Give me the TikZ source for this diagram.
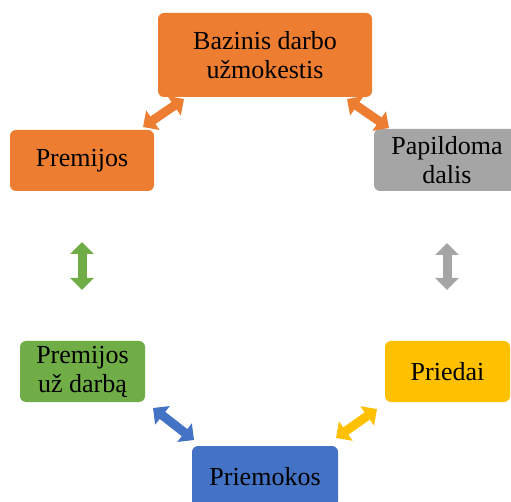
\documentclass[tikz,border=0pt]{standalone}
\usepackage{fontspec}
\setmainfont{Liberation Serif}
\usetikzlibrary{arrows.meta}
\definecolor{cOrange}{HTML}{ED7D31}
\definecolor{cGray}{HTML}{A5A5A5}
\definecolor{cYellow}{HTML}{FFC000}
\definecolor{cBlue}{HTML}{4472C4}
\definecolor{cGreen}{HTML}{70AD47}
\tikzset{
  box/.style={rounded corners=6pt, inner sep=0pt, align=center,
    font=\fontsize{26}{29}\selectfont, text=black},
  dblarrow/.style={line width=9pt, draw=#1,
    {Triangle[width=23pt,length=12pt]}-{Triangle[width=23pt,length=12pt]}}
}
\begin{document}
\begin{tikzpicture}[x=1pt,y=-1pt]
\useasboundingbox (0,0) rectangle (511,502);
% boxes
\node[box, fill=cOrange, minimum width=214pt, minimum height=84pt] (base) at (265,55) {Bazinis darbo\\užmokestis};
\node[box, fill=cOrange, minimum width=144pt, minimum height=61pt] (prem) at (82,160.5) {Premijos};
\node[box, fill=cGray, minimum width=146pt, minimum height=62pt] (pap) at (447,160) {Papildoma\\dalis};
\node[box, fill=cGreen, minimum width=125pt, minimum height=61pt] (premuz) at (82.5,371.5) {Premijos\\už darbą};
\node[box, fill=cYellow, minimum width=125pt, minimum height=61pt] (pried) at (447.5,371.5) {Priedai};
\node[box, fill=cBlue, minimum width=146pt, minimum height=61pt] (priem) at (265,476.5) {Priemokos};
% arrow end points
\coordinate (a1) at (143,127);
\coordinate (a2) at (184,99);
\coordinate (b1) at (347,99);
\coordinate (b2) at (389,128);
\coordinate (c1) at (82,242);
\coordinate (c2) at (82,290);
\coordinate (d1) at (447,243);
\coordinate (d2) at (447,290);
\coordinate (e1) at (153,408);
\coordinate (e2) at (194,440);
\coordinate (f1) at (377,409);
\coordinate (f2) at (336,438);
% arrows
\draw[dblarrow=cOrange] (a1) -- (a2);
\draw[dblarrow=cOrange] (b1) -- (b2);
\draw[dblarrow=cGreen] (c1) -- (c2);
\draw[dblarrow=cGray] (d1) -- (d2);
\draw[dblarrow=cBlue] (e1) -- (e2);
\draw[dblarrow=cYellow] (f1) -- (f2);
\end{tikzpicture}
\end{document}
